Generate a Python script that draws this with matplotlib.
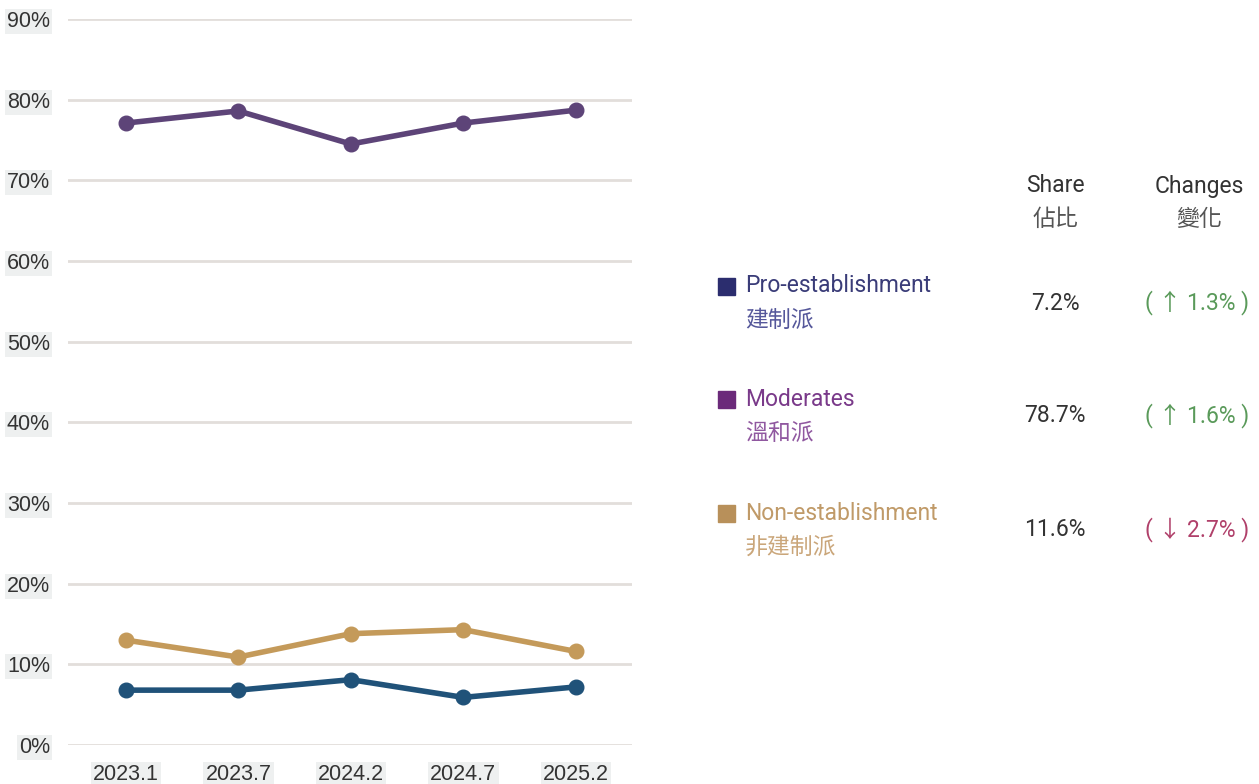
import matplotlib.pyplot as plt
import numpy as np

# Dados
periods = ['2023.1', '2023.7', '2024.2', '2024.7', '2025.2']
moderates = [77.1, 78.6, 74.5, 77.1, 78.7]
non_est = [13.0, 10.9, 13.8, 14.3, 11.6]
pro_est = [6.8, 6.8, 8.1, 5.9, 7.2]
y_ticks = [0, 10, 20, 30, 40, 50, 60, 70, 80, 90]

# Tabela da direita
groups_en = ['Pro-establishment', 'Moderates', 'Non-establishment']
groups_zh = ['建制派', '溫和派', '非建制派']
shares = ['7.2%', '78.7%', '11.6%']
changes = ['( ↑ 1.3% )', '( ↑ 1.6% )', '( ↓ 2.7% )']

W, H = 1259, 784
fig = plt.figure(figsize=(W / 100, H / 100), dpi=100)
ax = fig.add_axes([68 / W, 1 - 745 / H, (632 - 68) / W, (745 - 19) / H])

x = np.arange(len(periods))
line_kw = dict(lw=4, marker='o', markersize=10.5, solid_capstyle='round')
ax.plot(x, moderates, color='#5d4478', **line_kw)
ax.plot(x, non_est, color='#c49a5a', **line_kw)
ax.plot(x, pro_est, color='#205279', **line_kw)

ax.set_xlim(-0.515, 4.5)
ax.set_ylim(0, 90)
ax.set_yticks(y_ticks)
ax.set_yticklabels([f'{v}%' for v in y_ticks])
ax.set_xticks(x)
ax.set_xticklabels(periods)
ax.grid(axis='y', color='#e2dedb', lw=2)
ax.set_axisbelow(True)
for s in ax.spines.values():
    s.set_visible(False)
ax.tick_params(length=0, labelsize=15.5, labelcolor='#333333')
ax.tick_params(axis='y', pad=13)
ax.tick_params(axis='x', pad=14)
for lbl in ax.get_yticklabels() + ax.get_xticklabels():
    lbl.set_family('Liberation Sans')
    lbl.set_bbox(dict(facecolor='#eef0f0', edgecolor='none', pad=1.5))


def fx(px):
    return px / W


def fy(py):
    return 1 - py / H


fam = ['Roboto', 'Noto Sans CJK TC', 'DejaVu Sans']
txt = dict(family=fam, fontsize=16.5, va='center')
txt_zh = dict(family=['Noto Sans CJK TC', 'DejaVu Sans'], fontsize=16.5, va='center')

# Cabeçalhos
dark = '#333333'
fig.text(fx(1055), fy(186), 'Share', ha='center', color=dark, **txt)
fig.text(fx(1055), fy(219), '佔比', ha='center', color='#555555', **txt_zh)
fig.text(fx(1199), fy(186), 'Changes', ha='center', color=dark, **txt)
fig.text(fx(1199), fy(219), '變化', ha='center', color='#555555', **txt_zh)

sq_colors = ['#2b2d6e', '#6b2a7a', '#b8905a']
txt_colors = ['#3a3c78', '#7a3a8a', '#c09a68']
zh_colors = ['#55579a', '#9058a0', '#caa67a']
ch_colors = ['#5a9a5a', '#5a9a5a', '#b0406a']
rows_y = [286, 399, 513]
for i in range(3):
    y0 = rows_y[i]
    fig.patches.append(plt.Rectangle((fx(718), fy(y0 + 9)), 17 / W, 17 / H,
                                     transform=fig.transFigure, color=sq_colors[i]))
    fig.text(fx(745), fy(y0), groups_en[i], ha='left', color=txt_colors[i], **txt)
    fig.text(fx(745), fy(y0 + 34), groups_zh[i], ha='left', color=zh_colors[i], **txt_zh)
    fig.text(fx(1055), fy(y0 + 17), shares[i], ha='center', color=dark, **txt)
    fig.text(fx(1197), fy(y0 + 17), changes[i], ha='center', color=ch_colors[i], **txt)

fig.savefig('out.png', dpi=100)
